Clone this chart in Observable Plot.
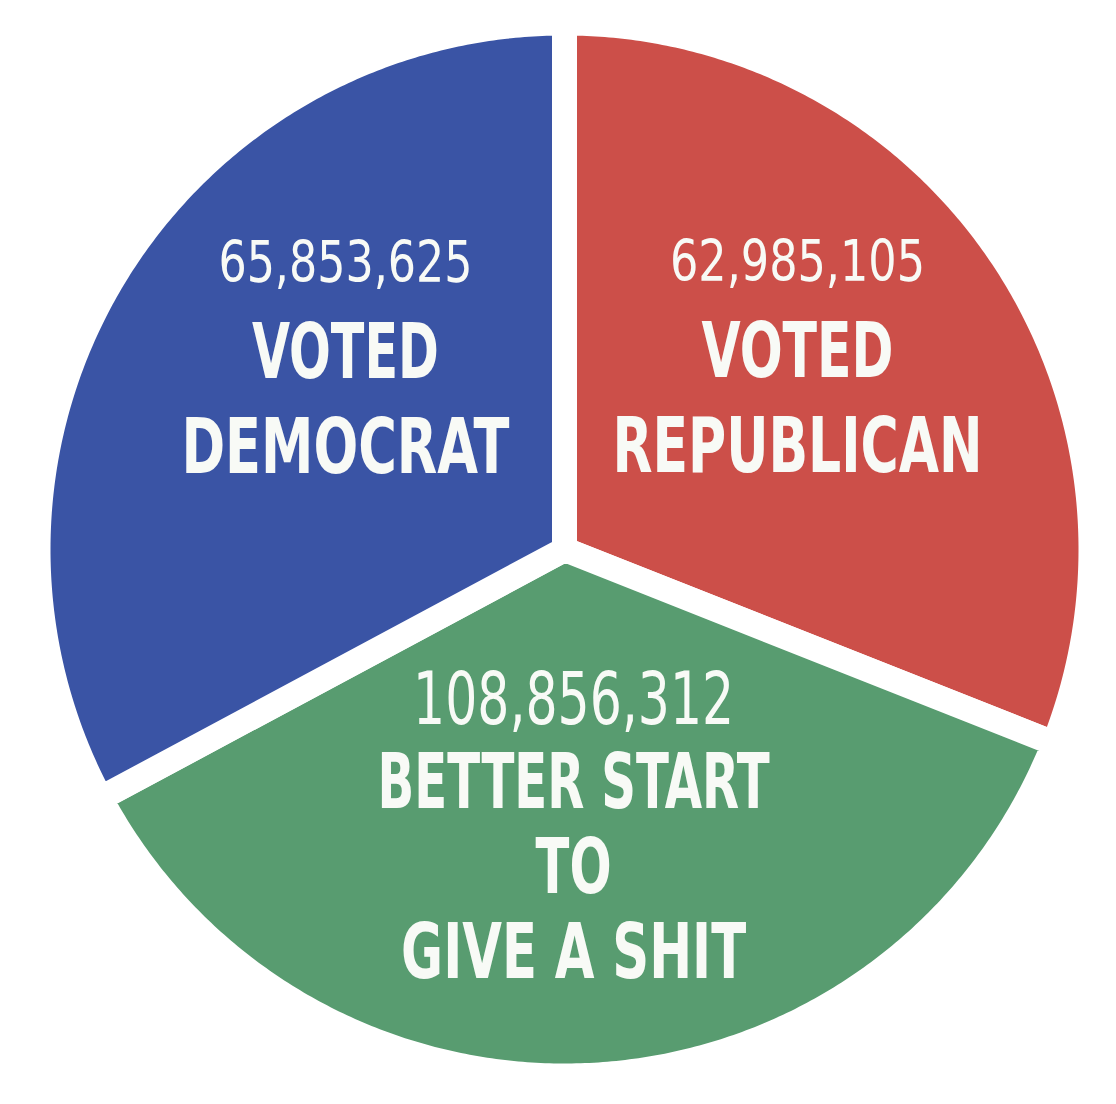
<!DOCTYPE html>
<html>
<head>
<meta charset="utf-8">
<script src="https://cdn.jsdelivr.net/npm/d3@7"></script>
<script src="https://cdn.jsdelivr.net/npm/@observablehq/plot@0.6"></script>
<style>
  html, body { margin: 0; padding: 0; background: #ffffff; }
  #chart svg { display: block; }
</style>
</head>
<body>
<div id="chart"></div>
<script>
// ---------------- DATA (clockwise from 12 o'clock) ----------------
const categories = ["Voted Republican", "Did not vote", "Voted Democrat"];
const votes = [62985105, 108856312, 65853625];
// Angular size of each slice as drawn in the picture, in degrees
// (the original drawing is not proportional to the vote counts)
const sliceDegrees = [111.6, 130.2, 118.2];
const labelLines = [
  ["VOTED", "REPUBLICAN"],
  ["BETTER START", "TO", "GIVE A SHIT"],
  ["VOTED", "DEMOCRAT"]
];
const colors = ["#cc4f49", "#589c70", "#3a54a5"];

// ---------------- LAYOUT (pixels / unit-circle positions) ----------------
const W = 1116, H = 1104, CX = 564, CY = 549, R = 514, GAP = 25;
const labelAnchor = [{angle: 41.0, r: 0.691}, {angle: 177.0, r: 0.339}, {angle: 320.7, r: 0.673}];
const numberSize = [57, 73, 57];
const labelSize = 77;
const lineOffsets = [[96, 191], [84, 169, 254], [96, 191]];
const numberWidth = [255, 321, 254];
const lineWidths = [[192, 370], [392, 76, 345], [187, 328]];
const FONT = "'Liberation Sans Narrow', 'DejaVu Sans Condensed', Roboto, 'Noto Sans', sans-serif";
const TEXT_COLOR = "#f8faf6";

// ---------------- GEOMETRY FROM DATA ----------------
const rad = d => d * Math.PI / 180;
const ends = Array.from(d3.cumsum(sliceDegrees));
const rOuter = (R + GAP / 2) / R;
const slices = categories.map((c, i) => {
  const a0 = i ? ends[i - 1] : 0, a1 = ends[i];
  const n = Math.ceil(a1 - a0) * 2;
  const pts = [{x: 0, y: 0}];
  for (let k = 0; k <= n; k++) {
    const a = rad(a0 + (a1 - a0) * k / n);
    pts.push({x: rOuter * Math.sin(a), y: rOuter * Math.cos(a)});
  }
  return pts;
});

const fmt = d3.format(",");
const numRows = categories.map((c, i) => {
  const a = rad(labelAnchor[i].angle);
  return {
    x: labelAnchor[i].r * Math.sin(a),
    y: labelAnchor[i].r * Math.cos(a),
    text: fmt(votes[i]),
    size: numberSize[i],
    width: numberWidth[i]
  };
});
const lblRows = categories.flatMap((c, i) =>
  labelLines[i].map((t, j) => ({
    x: numRows[i].x,
    y: numRows[i].y - lineOffsets[i][j] / R,
    text: t,
    width: lineWidths[i][j]
  }))
);

// ---------------- PLOT ----------------
const svg = Plot.plot({
  width: W,
  height: H,
  margin: 0,
  style: {background: "#ffffff"},
  x: {domain: [-CX / R, (W - CX) / R], axis: null},
  y: {domain: [-(H - CY) / R, CY / R], axis: null},
  marks: [
    ...slices.map((pts, i) => Plot.line(pts, {
      x: "x", y: "y",
      curve: "linear-closed",
      fill: colors[i],
      stroke: "#ffffff",
      strokeWidth: GAP,
      strokeLinejoin: "miter",
      strokeMiterlimit: 10
    })),
    Plot.text(numRows, {
      x: "x", y: "y", text: "text",
      fontSize: d => d.size,
      lineAnchor: "bottom",
      fill: TEXT_COLOR,
      fontFamily: FONT,
      fontWeight: 400
    }),
    Plot.text(lblRows, {
      x: "x", y: "y", text: "text",
      fontSize: labelSize,
      lineAnchor: "bottom",
      fill: TEXT_COLOR,
      fontFamily: FONT,
      fontWeight: 700
    })
  ]
});

// fit each line to the width measured in the picture (condensed type)
const groups = d3.select(svg).selectAll("g[aria-label='text']").nodes();
[numRows, lblRows].forEach((rows, g) => {
  d3.select(groups[g]).selectAll("text").each(function(_, i) {
    this.setAttribute("textLength", rows[i].width);
    this.setAttribute("lengthAdjust", "spacingAndGlyphs");
  });
});

document.getElementById("chart").appendChild(svg);
</script>
</body>
</html>
